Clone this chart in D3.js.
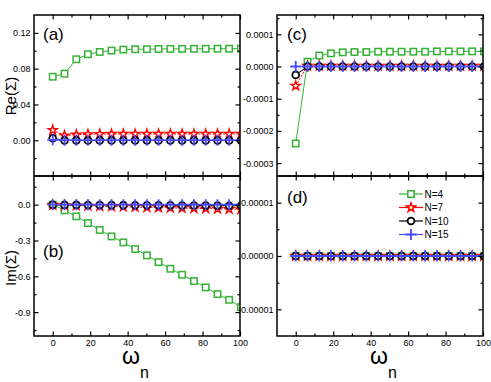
<!DOCTYPE html>
<html lang="en">
<head>
<meta charset="utf-8">
<title>Self energy</title>
<script src="https://d3js.org/d3.v7.min.js"></script>
<style>
    body { margin: 0; background-color: white; }
    svg { font-family: "Liberation Sans", Arial, sans-serif; }
</style>
</head>
<body>
<div id="chart_div"></div>
<script>
"use strict";

// Matsubara frequencies (x positions of the points)
var omega = [0, 6.3, 12.6, 18.8, 25.1, 31.4, 37.7, 44.0, 50.3, 56.5, 62.8, 69.1, 75.4, 81.7, 88.0, 94.2, 100.5];
var series_names = ["N=4", "N=7", "N=10", "N=15"];

// panel (a): Re(Sigma)
var re_a_n4  = [0.071, 0.0744, 0.0905, 0.0961, 0.0987, 0.1002, 0.1013, 0.1017, 0.1018, 0.102, 0.1021, 0.1021, 0.1022, 0.1022, 0.1023, 0.1023, 0.1024];
var re_a_n7  = [0.0112, 0.0052, 0.0062, 0.0066, 0.0068, 0.0069, 0.007, 0.007, 0.007, 0.007, 0.007, 0.007, 0.007, 0.007, 0.007, 0.007, 0.007];
var re_a_n10 = [0.0022, -0.0002, -0.0002, -0.0002, -0.0002, -0.0002, -0.0002, -0.0002, -0.0002, -0.0002, -0.0002, -0.0002, -0.0002, -0.0002, -0.0002, -0.0002, -0.0002];
var re_a_n15 = [0.0005, 0, 0, 0, 0, 0, 0, 0, 0, 0, 0, 0, 0, 0, 0, 0, 0];

// panel (b): Im(Sigma)
var im_b_n4  = [0, -0.048, -0.098, -0.154, -0.212, -0.266, -0.316, -0.372, -0.425, -0.481, -0.537, -0.587, -0.640, -0.693, -0.749, -0.797, -0.858];
var im_b_n7  = [-0.003, -0.006, -0.008, -0.01, -0.013, -0.015, -0.017, -0.02, -0.022, -0.024, -0.027, -0.029, -0.031, -0.033, -0.035, -0.037, -0.039];
var im_b_n10 = [-0.001, -0.002, -0.002, -0.003, -0.003, -0.004, -0.004, -0.005, -0.005, -0.006, -0.006, -0.007, -0.007, -0.008, -0.008, -0.009, -0.009];
var im_b_n15 = [0, 0, 0, 0, 0, 0, 0, 0, 0, 0, 0, 0, 0, 0, 0, 0, 0];

// panel (c): Re(Sigma), large U
var re_c_n4  = [-0.000239, 0.000015, 0.000034, 0.000041, 0.000044, 0.000045, 0.000045, 0.000046, 0.000046, 0.000046, 0.000046, 0.000046, 0.000047, 0.000047, 0.000047, 0.000047, 0.000047];
var re_c_n7  = [-0.00006, 0.000002, 0.000002, 0.000002, 0.000002, 0.000002, 0.000002, 0.000002, 0.000002, 0.000002, 0.000002, 0.000002, 0.000002, 0.000002, 0.000002, 0.000002, 0.000002];
var re_c_n10 = [-0.000026, 0, 0, 0, 0, 0, 0, 0, 0, 0, 0, 0, 0, 0, 0, 0, 0];
var re_c_n15 = [0, 0, 0, 0, 0, 0, 0, 0, 0, 0, 0, 0, 0, 0, 0, 0, 0];

// panel (d): Im(Sigma), large U
var im_d_n4  = [0, 0, 0, 0, 0, 0, 0, 0, 0, 0, 0, 0, 0, 0, 0, 0, 0];
var im_d_n7  = [0, 0, 0, 0, 0, 0, 0, 0, 0, 0, 0, 0, 0, 0, 0, 0, 0];
var im_d_n10 = [0, 0, 0, 0, 0, 0, 0, 0, 0, 0, 0, 0, 0, 0, 0, 0, 0];
var im_d_n15 = [0, 0, 0, 0, 0, 0, 0, 0, 0, 0, 0, 0, 0, 0, 0, 0, 0];

// tick values
var x_major = [0, 20, 40, 60, 80, 100];
var x_minor = [10, 30, 50, 70, 90];
var a_major = [0, 0.04, 0.08, 0.12];
var a_minor = [-0.02, 0.02, 0.06, 0.10];
var b_major = [-0.9, -0.6, -0.3, 0];
var b_minor = [-1.05, -0.75, -0.45, -0.15, 0.15];
var c_major = [-0.0003, -0.0002, -0.0001, 0, 0.0001];
var c_minor = [-0.00025, -0.00015, -0.00005, 0.00005, 0.00015];
var d_major = [-0.00001, 0, 0.00001];
var d_minor = [-0.000005, 0.000005];

var colors = ["#33b233", "#ff0000", "#000000", "#4848ff"];

var svg_width = 491;
var svg_height = 382;
var svg = d3.select("#chart_div").append("svg")
    .attr("width", svg_width)
    .attr("height", svg_height);

var panels = [
    { id: "a", x0: 34, x1: 240, y0: 15, y1: 176, dom: [-0.04, 0.14], major: a_major, minor: a_minor, dec: 2, xlabels: false,
      series: [re_a_n4, re_a_n7, re_a_n10, re_a_n15], label: "(a)", lx: 43, ly: 40 },
    { id: "b", x0: 34, x1: 240, y0: 176, y1: 336, dom: [-1.1, 0.24], major: b_major, minor: b_minor, dec: 1, xlabels: true,
      series: [im_b_n4, im_b_n7, im_b_n10, im_b_n15], label: "(b)", lx: 43, ly: 257 },
    { id: "c", x0: 277, x1: 483, y0: 15, y1: 176, dom: [-0.00034, 0.00016], major: c_major, minor: c_minor, dec: 4, xlabels: false,
      series: [re_c_n4, re_c_n7, re_c_n10, re_c_n15], label: "(c)", lx: 287, ly: 40 },
    { id: "d", x0: 277, x1: 483, y0: 176, y1: 336, dom: [-0.000015, 0.000015], major: d_major, minor: d_minor, dec: 5, xlabels: true,
      series: [im_d_n4, im_d_n7, im_d_n10, im_d_n15], label: "(d)", lx: 287, ly: 203 }
];

function draw_marker(sel, k) {
    if (k === 0) {
        sel.append("rect").attr("x", -3.2).attr("y", -3.2).attr("width", 6.4).attr("height", 6.4)
            .attr("fill", "white").attr("stroke", colors[0]).attr("stroke-width", 1.5);
    } else if (k === 1) {
        sel.append("path").attr("d", d3.symbol(d3.symbolStar, 26)())
            .attr("fill", "white").attr("stroke", colors[1]).attr("stroke-width", 1.4);
    } else if (k === 2) {
        sel.append("circle").attr("r", 3.4)
            .attr("fill", "white").attr("stroke", colors[2]).attr("stroke-width", 1.8);
    } else {
        sel.append("path").attr("d", "M-5.5,0H5.5M0,-5.5V5.5")
            .attr("fill", "none").attr("stroke", colors[3]).attr("stroke-width", 1.8);
    }
}

function add_axis(g, axis_fn, scale, values, len, fmt, pad, transform) {
    var axis = axis_fn(scale)
        .tickValues(values)
        .tickSizeInner(-len)
        .tickSizeOuter(0)
        .tickPadding(pad)
        .tickFormat(fmt);
    var ag = g.append("g").attr("transform", transform).call(axis);
    ag.select(".domain").remove();
    ag.selectAll("line").attr("stroke", "black").attr("stroke-width", 1.2);
    ag.attr("font-family", null).attr("font-size", null);
    ag.selectAll("text").attr("font-size", "9px").attr("fill", "black");
    return ag;
}

var blank = function() { return ""; };

panels.forEach(function(p) {
    var xscale = d3.scaleLinear().domain([-10, 100]).range([p.x0, p.x1]);
    var yscale = d3.scaleLinear().domain(p.dom).range([p.y1, p.y0]);
    var g = svg.append("g").attr("id", "panel_" + p.id);

    g.append("clipPath").attr("id", "clip_" + p.id)
        .append("rect").attr("x", p.x0).attr("y", p.y0)
        .attr("width", p.x1 - p.x0).attr("height", p.y1 - p.y0);

    var plot = g.append("g").attr("clip-path", "url(#clip_" + p.id + ")");
    var line = d3.line()
        .x(function(d, i) { return xscale(omega[i]); })
        .y(function(d) { return yscale(d); });

    p.series.forEach(function(vals, k) {
        plot.append("path")
            .attr("d", line(vals))
            .attr("fill", "none")
            .attr("stroke", colors[k])
            .attr("stroke-width", 1)
            .attr("stroke-dasharray", k === 1 ? "2,1.5" : null);
    });
    p.series.forEach(function(vals, k) {
        vals.forEach(function(v, i) {
            var m = plot.append("g")
                .attr("transform", "translate(" + xscale(omega[i]) + "," + yscale(v) + ")");
            draw_marker(m, k);
        });
    });

    var xfmt = p.xlabels ? function(d) { return d; } : blank;
    var yfmt = function(d) { return d.toFixed(p.dec); };

    add_axis(g, d3.axisBottom, xscale, x_major, 4.5, xfmt, 4, "translate(0," + p.y1 + ")");
    add_axis(g, d3.axisBottom, xscale, x_minor, 2.5, blank, 4, "translate(0," + p.y1 + ")");
    add_axis(g, d3.axisTop, xscale, x_major, 4.5, blank, 4, "translate(0," + p.y0 + ")");
    add_axis(g, d3.axisTop, xscale, x_minor, 2.5, blank, 4, "translate(0," + p.y0 + ")");
    add_axis(g, d3.axisLeft, yscale, p.major, 4.5, yfmt, 3.5, "translate(" + p.x0 + ",0)");
    add_axis(g, d3.axisLeft, yscale, p.minor, 2.5, blank, 3.5, "translate(" + p.x0 + ",0)");
    add_axis(g, d3.axisRight, yscale, p.major, 4.5, blank, 3.5, "translate(" + p.x1 + ",0)");
    add_axis(g, d3.axisRight, yscale, p.minor, 2.5, blank, 3.5, "translate(" + p.x1 + ",0)");

    g.append("rect")
        .attr("x", p.x0).attr("y", p.y0)
        .attr("width", p.x1 - p.x0).attr("height", p.y1 - p.y0)
        .attr("fill", "none").attr("stroke", "black").attr("stroke-width", 1.5);

    g.append("text")
        .attr("x", p.lx).attr("y", p.ly)
        .attr("font-size", "17px")
        .text(p.label);

    if (p.id === "d") {
        var lg = g.append("g").attr("id", "legend");
        series_names.forEach(function(name, k) {
            var ly = 194 + k * 13.5;
            lg.append("line").attr("x1", 399).attr("x2", 423).attr("y1", ly).attr("y2", ly)
                .attr("stroke", colors[k]).attr("stroke-width", 1.2);
            draw_marker(lg.append("g").attr("transform", "translate(411," + ly + ")"), k);
            lg.append("text").attr("x", 424.5).attr("y", ly + 3.6)
                .attr("font-size", "10px").text(name);
        });
    }
});

// axis titles
svg.append("text")
    .attr("transform", "translate(16,96) rotate(-90)")
    .attr("text-anchor", "middle")
    .attr("font-size", "15px")
    .text("Re(\u03A3)");
svg.append("text")
    .attr("transform", "translate(16,268) rotate(-90)")
    .attr("text-anchor", "middle")
    .attr("font-size", "15px")
    .text("Im(\u03A3)");

[122, 370].forEach(function(x) {
    var t = svg.append("text").attr("x", x).attr("y", 364);
    t.append("tspan").attr("font-size", "23px").text("\u03C9");
    t.append("tspan").attr("font-size", "16px").attr("dy", 14).text("n");
});
</script>
</body>
</html>
